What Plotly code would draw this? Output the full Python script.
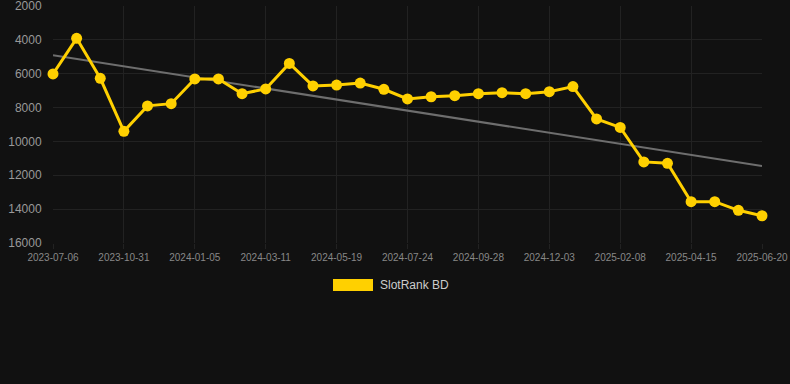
import numpy as np
import plotly.graph_objects as go

dates = [
    "2023-07-06", "2023-08-14", "2023-09-22", "2023-10-31", "2023-11-22", "2023-12-14",
    "2024-01-05", "2024-01-27", "2024-02-18", "2024-03-11", "2024-04-03", "2024-04-26",
    "2024-05-19", "2024-06-10", "2024-07-02", "2024-07-24", "2024-08-15", "2024-09-06",
    "2024-09-28", "2024-10-20", "2024-11-11", "2024-12-03", "2024-12-25", "2025-01-17",
    "2025-02-08", "2025-03-02", "2025-03-24", "2025-04-15", "2025-05-07", "2025-05-29",
    "2025-06-20",
]
ranks = [
    6010, 3910, 6270, 9400, 7900, 7770, 6310, 6310, 7180, 6900, 5390, 6720,
    6670, 6550, 6920, 7490, 7360, 7300, 7180, 7120, 7180, 7060, 6760, 8670,
    9170, 11210, 11290, 13560, 13560, 14070, 14390,
]
tick_labels = dates[::3]
y_ticks = [2000, 4000, 6000, 8000, 10000, 12000, 14000, 16000]
series_name = "SlotRank BD"

idx = np.arange(len(ranks))
slope, intercept = np.polyfit(idx, ranks, 1)
trend = slope * idx + intercept

GOLD = "#FFD000"

fig = go.Figure()
fig.add_trace(go.Scatter(
    x=dates, y=trend, mode="lines",
    line=dict(color="#6e6e6e", width=2),
    hoverinfo="skip", showlegend=False,
))
fig.add_trace(go.Scatter(
    x=dates, y=ranks, mode="lines+markers", name=series_name,
    line=dict(color=GOLD, width=3),
    marker=dict(color=GOLD, size=11),
    cliponaxis=False, showlegend=False,
))

fig.update_layout(
    width=790, height=384,
    paper_bgcolor="#111111", plot_bgcolor="#111111",
    margin=dict(l=53, r=28, t=6, b=141, autoexpand=False),
    font=dict(family="Liberation Sans, Arial, sans-serif"),
    xaxis=dict(
        type="category", range=[0, len(dates) - 1],
        tickvals=tick_labels, ticktext=tick_labels,
        tickfont=dict(size=10, color="#888888"),
        showgrid=True, gridcolor="#222222", gridwidth=1,
        ticks="outside", ticklen=5, tickcolor="#222222",
        zeroline=False, showline=False, automargin=False,
        ticklabeloverflow="allow",
    ),
    yaxis=dict(
        range=[16000, 2000], tickvals=y_ticks,
        ticktext=[str(v) for v in y_ticks],
        tickfont=dict(size=12, color="#999999"),
        showgrid=True, gridcolor="#222222", gridwidth=1,
        zeroline=False, showline=False, automargin=False,
        ticks="outside", ticklen=8, tickcolor="rgba(0,0,0,0)",
        ticklabeloverflow="allow",
    ),
    shapes=[dict(
        type="rect", xref="paper", yref="paper",
        x0=(333 - 53) / 709, x1=(373 - 53) / 709,
        y0=-(279 - 243) / 237, y1=-(291 - 243) / 237,
        fillcolor=GOLD, line=dict(width=0),
    )],
    annotations=[dict(
        text=series_name, xref="paper", yref="paper",
        x=(378 - 53) / 709, y=-(285 - 243) / 237,
        xanchor="left", yanchor="middle", showarrow=False,
        font=dict(size=12, color="#cccccc"),
    )],
)

fig.write_html(
    "out.html",
    config={"displayModeBar": False},
    post_script="document.body.style.margin='0';",
)
